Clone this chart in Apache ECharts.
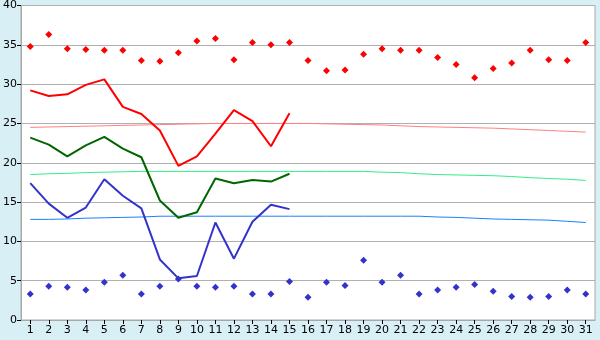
<!DOCTYPE html>
<html>
<head>
<meta charset="utf-8">
<script src="https://cdn.jsdelivr.net/npm/echarts@6/dist/echarts.min.js"></script>
<style>
  html, body { margin: 0; padding: 0; background: #d9eff6; }
  #chart { width: 600px; height: 340px; }
</style>
</head>
<body>
<div id="chart"></div>
<script>
const days = Array.from({ length: 31 }, (_, i) => String(i + 1))
const yTicks = [0, 5, 10, 15, 20, 25, 30, 35, 40]

// daily extremes (diamonds)
const maxPoints = [34.8, 36.3, 34.5, 34.4, 34.3, 34.3, 33.0, 32.9, 34.0, 35.5, 35.8, 33.1, 35.3, 35.0, 35.3, 33.0, 31.7, 31.8, 33.8, 34.5, 34.3, 34.3, 33.4, 32.5, 30.8, 32.0, 32.7, 34.3, 33.1, 33.0, 35.3]
const minPoints = [3.3, 4.3, 4.15, 3.8, 4.8, 5.7, 3.3, 4.3, 5.2, 4.3, 4.15, 4.3, 3.3, 3.3, 4.9, 2.9, 4.8, 4.4, 7.6, 4.8, 5.7, 3.3, 3.8, 4.15, 4.5, 3.65, 3.0, 2.9, 3.0, 3.8, 3.3]

// observed lines, days 1-15
const maxLine = [29.2, 28.5, 28.7, 29.9, 30.6, 27.1, 26.2, 24.1, 19.6, 20.8, 23.7, 26.7, 25.3, 22.1, 26.3]
const meanLine = [23.2, 22.3, 20.8, 22.2, 23.3, 21.8, 20.7, 15.2, 13.0, 13.7, 18.0, 17.4, 17.8, 17.6, 18.6]
const minLine = [17.4, 14.8, 13.0, 14.3, 17.9, 15.8, 14.2, 7.7, 5.3, 5.6, 12.4, 7.8, 12.5, 14.65, 14.1]

// normals
const maxNormal = [24.5, 24.55, 24.6, 24.65, 24.7, 24.75, 24.8, 24.85, 24.9, 24.95, 25.0, 25.0, 25.0, 25.0, 25.0, 25.0, 24.95, 24.9, 24.85, 24.8, 24.7, 24.6, 24.55, 24.5, 24.45, 24.4, 24.3, 24.2, 24.1, 24.0, 23.9]
const meanNormal = [18.5, 18.6, 18.65, 18.75, 18.8, 18.85, 18.9, 18.9, 18.9, 18.9, 18.9, 18.9, 18.9, 18.9, 18.9, 18.9, 18.9, 18.9, 18.9, 18.8, 18.75, 18.6, 18.5, 18.45, 18.4, 18.35, 18.25, 18.1, 18.0, 17.9, 17.75]
const minNormal = [12.8, 12.8, 12.85, 12.95, 13.0, 13.05, 13.1, 13.2, 13.2, 13.2, 13.2, 13.2, 13.2, 13.2, 13.2, 13.2, 13.2, 13.2, 13.2, 13.2, 13.2, 13.2, 13.1, 13.05, 12.95, 12.85, 12.8, 12.75, 12.7, 12.55, 12.4]

const chart = echarts.init(document.getElementById('chart'), null, { renderer: 'canvas' })

const line = (data, color, width, z) => ({
  type: 'line',
  data,
  showSymbol: false,
  symbol: 'none',
  animation: false,
  lineStyle: { color, width },
  z,
})

const dots = (data, color) => ({
  type: 'line',
  data,
  symbol: 'diamond',
  symbolSize: 7,
  lineStyle: { width: 0, opacity: 0 },
  itemStyle: { color },
  animation: false,
  z: 5,
})

chart.setOption({
  backgroundColor: '#d9eff6',
  animation: false,
  grid: {
    left: 21,
    right: 5,
    top: 5,
    bottom: 20,
    show: true,
    backgroundColor: '#ffffff',
    borderColor: '#a8a8a8',
    borderWidth: 1,
  },
  xAxis: {
    type: 'category',
    data: days,
    boundaryGap: true,
    axisLine: { lineStyle: { color: '#a8a8a8' } },
    axisTick: { show: true, alignWithLabel: true, length: 4, lineStyle: { color: '#000' } },
    axisLabel: { color: '#000', fontFamily: 'DejaVu Sans', fontSize: 11, interval: 0, margin: 5 },
    splitLine: { show: false },
  },
  yAxis: {
    type: 'value',
    min: yTicks[0],
    max: yTicks[yTicks.length - 1],
    interval: 5,
    axisLine: { show: true, lineStyle: { color: '#a8a8a8' } },
    axisTick: { show: true, length: 4, lineStyle: { color: '#000' } },
    axisLabel: { color: '#000', fontFamily: 'DejaVu Sans', fontSize: 11, margin: 4 },
    splitLine: { lineStyle: { color: '#b0b0b0', width: 1 } },
  },
  series: [
    line(maxNormal, '#ff8080', 1, 2),
    line(meanNormal, '#33ee88', 1, 2),
    line(minNormal, '#1a80ff', 1, 2),
    line(maxLine, '#ff0000', 2, 3),
    line(meanLine, '#006600', 2, 3),
    line(minLine, '#3333cc', 2, 3),
    dots(maxPoints, '#ff0000'),
    dots(minPoints, '#3333cc'),
  ],
})
</script>
</body>
</html>
